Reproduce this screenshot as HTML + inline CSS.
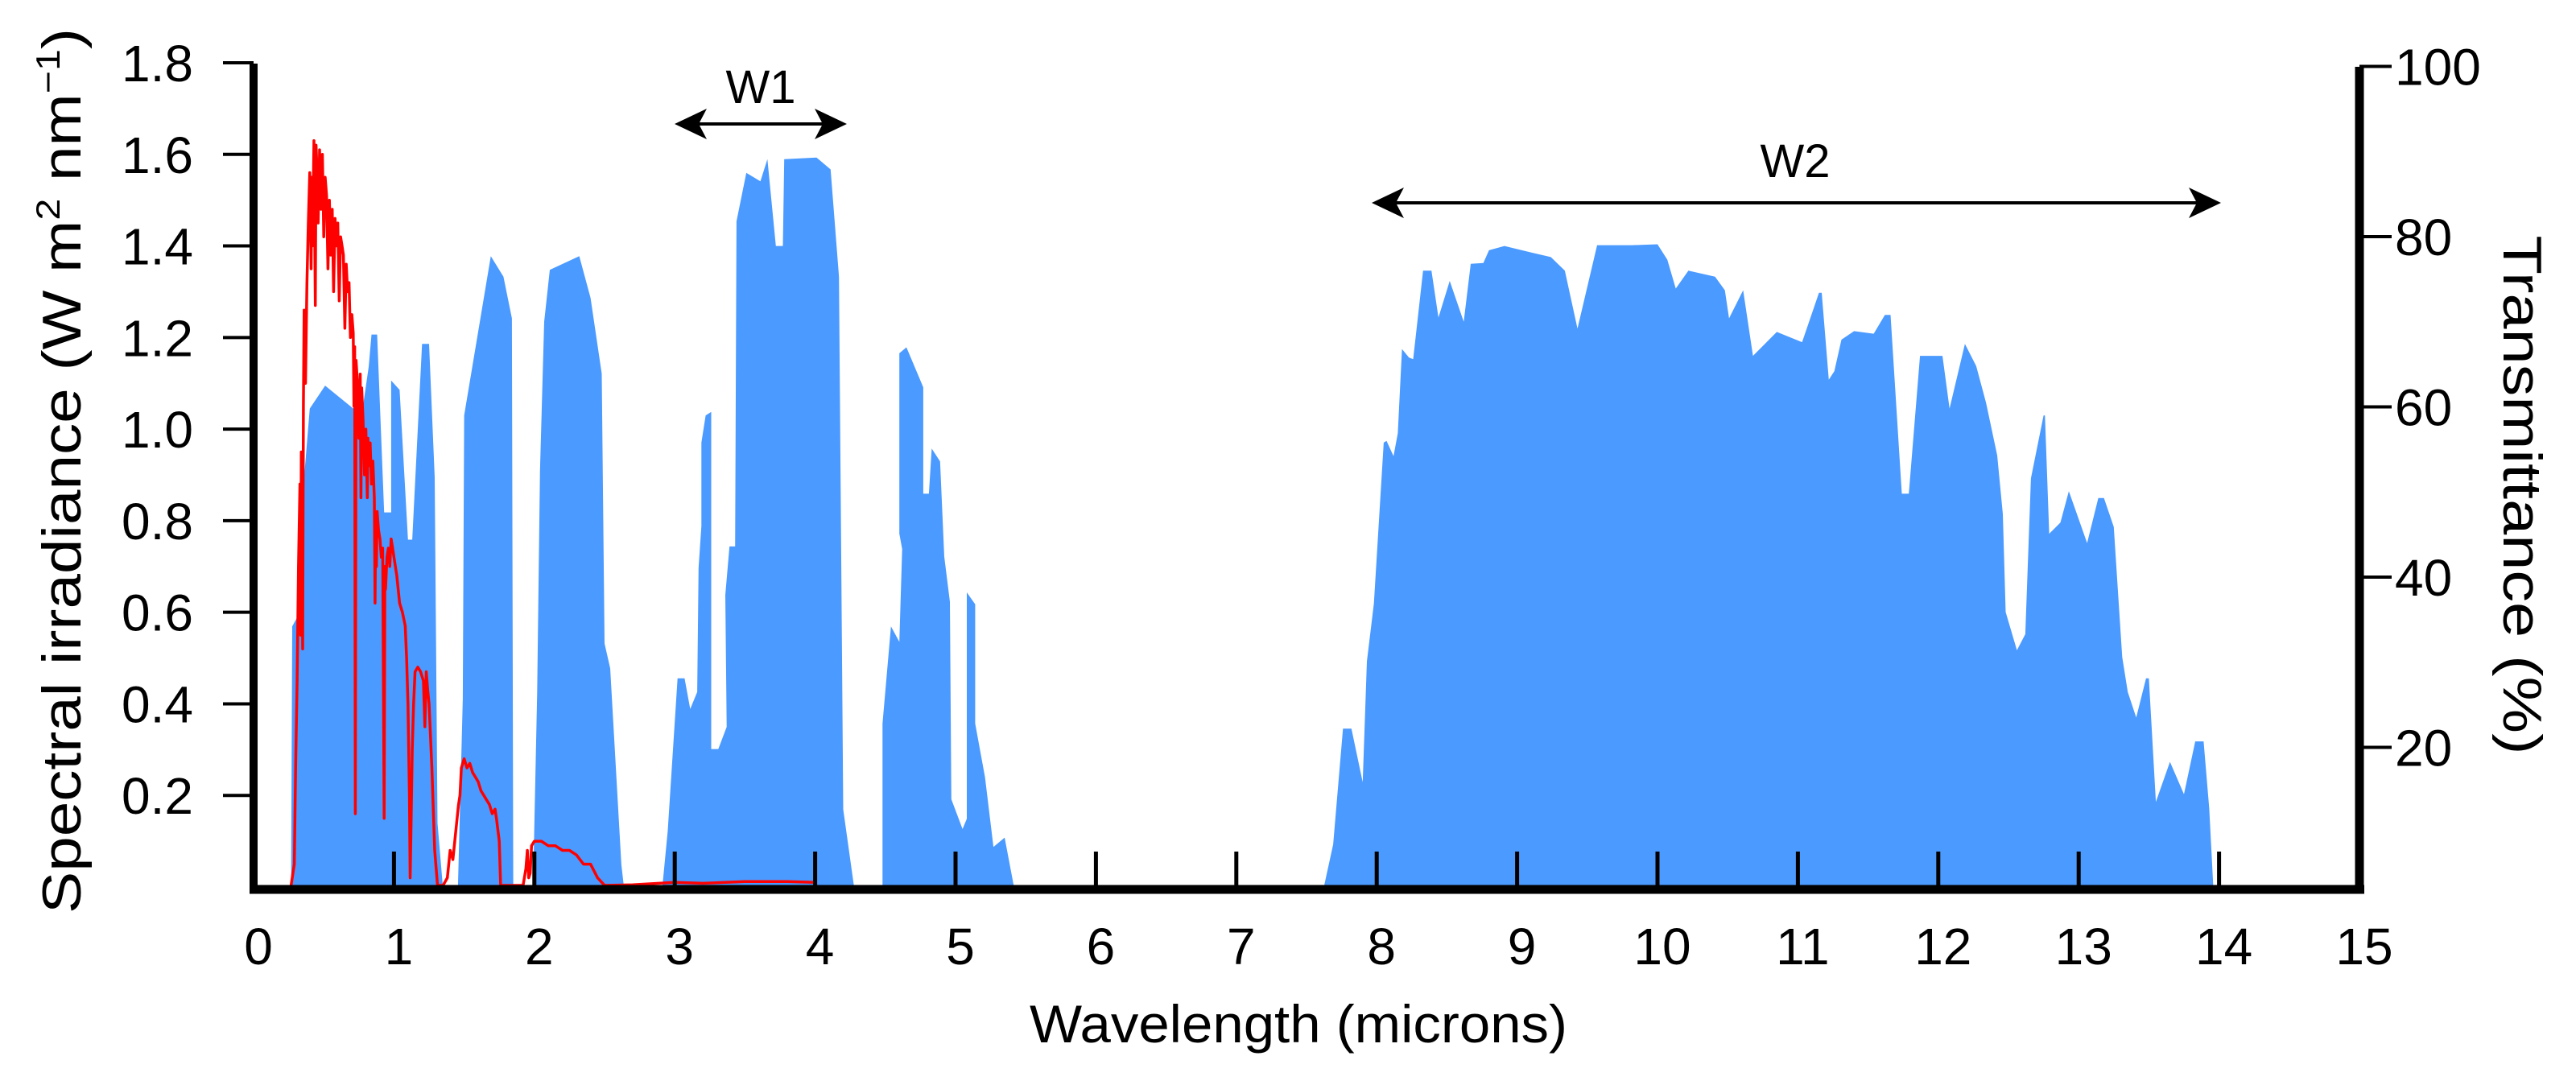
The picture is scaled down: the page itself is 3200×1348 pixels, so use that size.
<!DOCTYPE html>
<html>
<head>
<meta charset="utf-8">
<style>
html,body{margin:0;padding:0;background:#fff;}
svg{display:block;}
text{font-family:"Liberation Sans",Arial,sans-serif;fill:#000;}
</style>
</head>
<body>
<svg id="chart" width="3200" height="1348" viewBox="0 0 3200 1348" xmlns="http://www.w3.org/2000/svg">
  <g id="fills"></g>
  <g id="lines"></g>
  <g id="axes"></g>
  <g id="labels"></g>
  <text x="0" y="0" font-size="68" text-anchor="middle" textLength="1100" lengthAdjust="spacingAndGlyphs" transform="translate(100,585) rotate(-90)">Spectral irradiance (W m<tspan font-size="42" dy="-26">2</tspan><tspan dy="26"> nm</tspan><tspan font-size="42" dy="-26">−1</tspan><tspan dy="26">)</tspan></text>
  <text x="0" y="0" font-size="68" text-anchor="middle" textLength="645" lengthAdjust="spacingAndGlyphs" transform="translate(3110,615) rotate(90)">Transmittance (%)</text>
  <text x="1613" y="1295" font-size="66" text-anchor="middle" textLength="668" lengthAdjust="spacingAndGlyphs">Wavelength (microns)</text>
  <g id="annot"></g>
</svg>
<script>
// ---- data ----
const transWl = [0.267,0.275,0.315,0.356,0.40,0.51,0.77,0.82,0.84,0.88,0.93,0.98,0.98,1.04,1.10,1.13,1.20,1.25,1.29,1.31,1.35,
 1.455,1.49,1.50,1.69,1.78,1.84,1.85,
 1.99,2.02,2.04,2.07,2.11,2.32,2.40,2.48,2.50,2.54,2.62,2.64,
 2.91,2.95,3.02,3.07,3.11,3.16,3.17,3.19,3.19,3.22,3.26,3.26,3.31,3.37,3.36,3.39,3.43,3.44,3.51,3.61,3.66,3.72,3.77,3.78,4.01,4.11,4.17,4.20,4.28,
 4.48,4.48,4.54,4.60,4.62,4.60,4.60,4.65,4.77,4.77,4.81,4.83,4.89,4.92,4.96,4.97,5.05,5.08,5.08,5.14,5.14,5.21,5.27,5.35,5.42,
 7.62,7.69,7.76,7.82,7.90,7.93,7.98,8.05,8.07,8.12,8.15,8.18,8.23,8.26,8.33,8.39,8.44,8.52,8.62,8.67,8.76,8.80,8.91,9.06,9.24,9.34,9.43,9.57,9.82,10.00,10.07,10.13,10.22,10.41,10.48,10.51,10.61,10.68,10.85,11.03,11.15,11.17,11.22,11.26,11.31,11.40,11.54,11.62,11.66,11.74,11.79,11.87,12.03,12.08,12.19,12.27,12.34,12.42,12.46,12.48,12.56,12.62,12.66,12.75,12.76,12.79,12.87,12.93,13.06,13.14,13.18,13.25,13.31,13.35,13.41,13.48,13.50,13.55,13.65,13.75,13.83,13.89,13.93,13.96];
const transVal = [3,34.2,35.4,50.9,59.8,62.5,59.0,64.7,68.5,68.5,47.6,47.6,63.1,62.0,44.4,44.4,67.4,67.4,51.7,11.1,3,
 3,25.7,59.0,77.7,75.3,70.4,3,
 3,26.5,52.5,70.0,76.1,77.7,72.8,63.9,32.2,29.3,6.2,3,
 3,10.2,28.1,28.1,24.5,26.5,41.1,46.0,55.8,59.0,59.4,19.8,19.8,22.4,37.9,43.6,43.6,81.8,87.5,86.5,89.1,78.9,78.9,89.1,89.3,87.9,75.3,12.7,3,
 3,22.8,34.2,32.4,43.3,45.1,66.3,67.0,62.3,49.8,49.8,55.1,53.6,42.4,37.1,13.9,10.4,11.6,38.2,36.8,22.8,16.5,8.3,9.4,3,
 3,8.6,22.2,22.2,15.9,30.1,36.9,55.8,56.0,54.2,56.9,66.8,65.8,65.6,76.0,76.0,70.5,74.8,70.0,76.8,76.9,78.4,78.9,78.3,77.6,76.0,69.2,79.0,79.0,79.1,77.3,73.9,76.0,75.3,73.7,70.4,73.7,66.0,68.8,67.6,73.4,73.4,63.2,64.2,67.9,68.9,68.6,70.8,70.8,49.8,49.8,66.0,66.0,59.8,67.4,64.8,60.5,54.3,47.4,35.9,31.4,33.3,51.6,59.0,59.0,45.1,46.4,50.1,44.0,49.3,49.3,45.9,30.6,26.5,23.5,28.1,28.1,13.6,18.3,14.5,20.7,20.7,12.8,3];
const irradWl = [0.267,0.29,0.30,0.31,0.32,0.33,0.335,0.34,0.35,0.355,0.36,0.37,0.38,0.39,0.40,0.41,0.415,0.42,0.43,0.44,0.445,0.45,0.46,0.47,0.48,0.49,0.50,0.51,0.52,0.53,0.54,0.55,0.56,0.57,0.58,0.59,0.60,0.61,0.62,0.63,0.64,0.65,0.66,0.67,0.68,0.69,0.70,0.71,0.715,0.72,0.725,0.73,0.74,0.75,0.76,0.765,0.77,0.78,0.79,0.80,0.81,0.815,0.82,0.83,0.84,0.85,0.86,0.865,0.87,0.875,0.88,0.89,0.90,0.91,0.92,0.925,0.93,0.935,0.94,0.95,0.96,0.97,0.98,0.99,1.00,1.02,1.04,1.06,1.08,1.09,1.10,1.11,1.115,1.12,1.13,1.14,1.15,1.17,1.19,1.21,1.22,1.23,1.24,1.25,1.27,1.29,1.31,1.35,1.38,1.40,1.42,1.44,1.46,1.47,1.48,1.50,1.52,1.54,1.56,1.58,1.60,1.62,1.64,1.66,1.68,1.70,1.72,1.73,1.75,1.76,1.85,1.92,1.94,1.95,1.96,1.97,1.98,2.0,2.05,2.1,2.15,2.2,2.25,2.3,2.35,2.4,2.45,2.5,2.7,3.0,3.2,3.5,3.8,4.0];
const irradVal = [0,0.05,0.27,0.45,0.70,0.88,0.55,0.95,0.52,1.05,1.26,1.10,1.32,1.45,1.56,1.35,1.55,1.40,1.63,1.27,1.62,1.58,1.45,1.61,1.48,1.60,1.42,1.55,1.51,1.35,1.50,1.38,1.48,1.30,1.46,1.40,1.45,1.28,1.42,1.40,1.38,1.22,1.36,1.30,1.32,1.20,1.25,1.21,1.05,1.18,0.16,1.15,1.10,0.98,1.12,0.85,1.09,1.02,0.90,1.0,0.85,0.98,0.92,0.97,0.88,0.93,0.85,0.62,0.80,0.70,0.82,0.78,0.76,0.72,0.74,0.45,0.15,0.70,0.65,0.72,0.74,0.70,0.76,0.74,0.72,0.68,0.62,0.60,0.57,0.50,0.40,0.20,0.02,0.10,0.30,0.40,0.47,0.48,0.47,0.45,0.35,0.47,0.43,0.40,0.26,0.08,0,0,0.02,0.08,0.06,0.12,0.18,0.20,0.26,0.28,0.26,0.27,0.25,0.24,0.23,0.21,0.20,0.19,0.18,0.16,0.17,0.15,0.10,0,0,0,0.04,0.08,0.02,0.03,0.09,0.10,0.10,0.09,0.09,0.08,0.08,0.07,0.05,0.05,0.02,0,0.005,0.01,0.008,0.012,0.012,0.01];
const xTicks = [1,2,3,4,5,6,7,8,9,10,11,12,13,14];
const xTickLabels = ["0","1","2","3","4","5","6","7","8","9","10","11","12","13","14","15"];
const yLeftTicks = [0.2,0.4,0.6,0.8,1.0,1.2,1.4,1.6,1.8];
const yLeftLabels = ["0.2","0.4","0.6","0.8","1.0","1.2","1.4","1.6","1.8"];
const yRightTicks = [20,40,60,80,100];
const yRightLabels = ["20","40","60","80","100"];

// ---- scales ----
const X0 = 315, XPER = 174.4, BASE = 1105;
const xs = w => X0 + w * XPER;
const yL = v => 1102 - v * 568.9;
const yR = t => 1140 - t * 10.575;
const NS = "http://www.w3.org/2000/svg";
function mk(tag, parent) { const e = document.createElementNS(NS, tag); parent.appendChild(e); return e; }

// fill
const fills = document.getElementById('fills');
let d = `M${xs(transWl[0])},${BASE}`;
for (let i = 0; i < transWl.length; i++) d += ` L${xs(transWl[i]).toFixed(1)},${Math.min(yR(transVal[i]), BASE).toFixed(1)}`;
d += ` L${xs(transWl[transWl.length-1])},${BASE} Z`;
const area = mk('path', fills);


area.setAttribute('d', d);
area.setAttribute('fill', '#4b9aff');

// red line
const lines = document.getElementById('lines');
let ld = '';
for (let i = 0; i < irradWl.length; i++) ld += (i ? ' L' : 'M') + xs(irradWl[i]).toFixed(1) + ',' + Math.min(yL(irradVal[i]), 1100).toFixed(1);
const line = mk('path', lines);


line.setAttribute('d', ld);
line.setAttribute('fill', 'none');
line.setAttribute('stroke', '#ff0000');
line.setAttribute('stroke-width', '3.5');
line.setAttribute('stroke-linejoin', 'round');

// axes
const axes = document.getElementById('axes');
function ln(p, x1, y1, x2, y2, w, name) {
  const l = mk('line', p);
  
  
  l.setAttribute('x1', x1); l.setAttribute('y1', y1); l.setAttribute('x2', x2); l.setAttribute('y2', y2);
  l.setAttribute('stroke', '#000'); l.setAttribute('stroke-width', w);
}
ln(axes, 310, BASE, 2937, BASE, 11, 'x-axis-line');
ln(axes, 315, 79, 315, 1110, 10, 'y-axis-left-line');
ln(axes, 2931, 83, 2931, 1110, 11, 'y-axis-right-line');
xTicks.forEach(t => ln(axes, xs(t), 1100, xs(t), 1058, 5, 'x-tick'));
yLeftTicks.forEach(t => ln(axes, 277, yL(t), 315, yL(t), 4, 'y-left-tick'));
yRightTicks.forEach(t => ln(axes, 2931, yR(t), 2971, yR(t), 4, 'y-right-tick'));

const labels = document.getElementById('labels');
function tx(p, x, y, s, anchor, size, name) {
  const t = mk('text', p);
  
  
  t.setAttribute('x', x); t.setAttribute('y', y);
  t.setAttribute('text-anchor', anchor); t.setAttribute('font-size', size);
  t.textContent = s;
  return t;
}
xTickLabels.forEach((s, i) => tx(labels, xs(i) + 6, 1198, s, 'middle', 64, 'x-tick-label'));
yLeftTicks.forEach((t, i) => tx(labels, 240, yL(t) + 23, yLeftLabels[i], 'end', 64, 'y-left-tick-label'));
yRightTicks.forEach((t, i) => tx(labels, 2975, yR(t) + 23, yRightLabels[i], 'start', 64, 'y-right-tick-label'));

// annotations
const annot = document.getElementById('annot');
function arrow(xa, xb, y, name) {
  ln(annot, xa + 20, y, xb - 20, y, 4, name + '-shaft');
  const h1 = mk('path', annot);
  
  
  h1.setAttribute('d', `M${xa},${y} L${xa+40},${y-19} L${xa+30},${y} L${xa+40},${y+19} Z`);
  const h2 = mk('path', annot);
  
  
  h2.setAttribute('d', `M${xb},${y} L${xb-40},${y-19} L${xb-30},${y} L${xb-40},${y+19} Z`);
}
arrow(838, 1052, 154, 'w1-arrow');
arrow(1704, 2759, 252, 'w2-arrow');
tx(annot, 945, 128, 'W1', 'middle', 58, 'w1-label');
tx(annot, 2230, 220, 'W2', 'middle', 58, 'w2-label');
</script>
</body>
</html>
